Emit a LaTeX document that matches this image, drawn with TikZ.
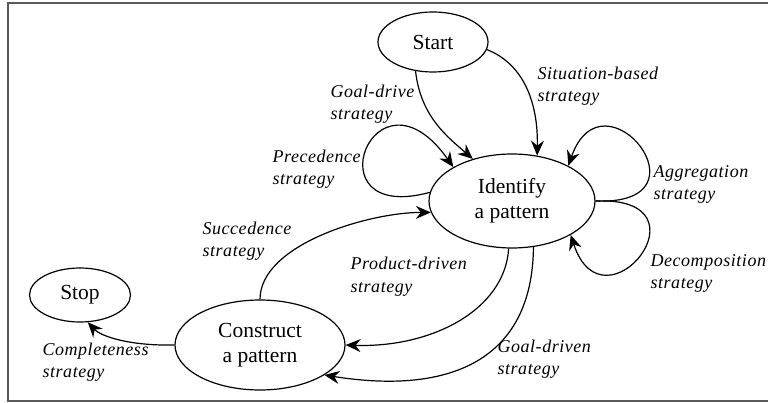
\documentclass[tikz,border=0pt]{standalone}
\usepackage{fontspec}
\setmainfont{Liberation Serif}
\usetikzlibrary{arrows.meta,shapes.geometric,positioning}

\begin{document}
\begin{tikzpicture}[x=1pt,y=1pt,>={Stealth[length=15pt,width=13pt,inset=5pt]},
	line width=1.2pt,
	phase/.style={ellipse,draw,inner sep=0pt,align=center,font=\fontsize{21.5}{25}\selectfont},
	strat/.style={anchor=base west,align=left,inner sep=0pt,font=\fontsize{18}{22}\selectfont\addfontfeatures{LetterSpace=3}\itshape}]
		\useasboundingbox (0,0) rectangle (768,-403);
		\draw[black!65,line width=1.5pt] (8,-3) rectangle (775,-401);
		\node[phase,minimum width=110,minimum height=60] (start) at (433,-42) {Start};
		\node[phase,minimum width=166,minimum height=94] (identify) at (512,-201) {Identify\\a pattern};
		\node[phase,minimum width=101,minimum height=54] (stop) at (80,-295) {Stop};
		\node[phase,minimum width=170,minimum height=90] (construct) at (260,-345) {Construct\\a pattern};
		% strategies
		\node[strat] (goaldrive) at (330,-120) {Goal-drive\\strategy};
		\node[strat] (situation) at (537,-102) {Situation-based\\strategy};
		\node[strat] (precedence) at (272,-185) {Precedence\\strategy};
		\node[strat] (aggregation) at (653,-200) {Aggregation\\strategy};
		\node[strat] (decomposition) at (650,-289) {Decomposition\\strategy};
		\node[strat] (succedence) at (202,-257) {Succedence\\strategy};
		\node[strat] (productdriven) at (350,-292) {Product-driven\\strategy};
		\node[strat] (goaldriven) at (497,-374) {Goal-driven\\strategy};
		\node[strat] (completeness) at (42,-377) {Completeness\\strategy};
		% connectors
		\draw[->] (start.239) .. controls +(5,-46) and +(-24,21) .. (identify.133);
		\draw[->] (start.-8) .. controls +(38,-15) and +(1,51) .. (identify.61);
		\draw[->] (identify.174) .. controls +(-121,-33) and +(-79,112) .. (identify.150);
		\draw[->] (identify.0) .. controls +(120,-5) and +(35,100) .. (identify.32);
		\draw[->] (identify.0) .. controls +(120,5) and +(33,-101) .. (identify.-30);
		\draw[->] (construct.90) .. controls +(0,55) and +(-62,0) .. (identify.188);
		\draw[->] (identify.266) .. controls +(-4,-62) and +(85,-3) .. (construct.0);
		\draw[->] (identify.-65) .. controls +(-1,-113) and +(126,-20) .. (construct.-25);
		\draw[->] (construct.180) .. controls +(-45,-1) and +(13,-14) .. (stop.-74);
	\end{tikzpicture}
\end{document}
